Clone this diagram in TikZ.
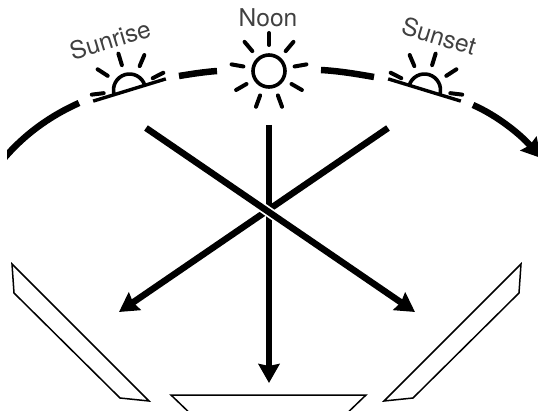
\documentclass[tikz,border=0pt]{standalone}
\usepackage{fontspec}
\setmainfont{TeX Gyre Heros}
\usetikzlibrary{arrows.meta}
\definecolor{labelgray}{rgb}{0.25, 0.25, 0.25}
\tikzset{
  beam/.style={line width=6.5pt,-{Stealth[length=19pt,width=21pt,inset=2pt]}},
  sky/.style={line width=6.5pt},
  ray/.style={line width=4pt,line cap=round},
  ground/.style={line width=3.4pt},
  panel/.style={line width=1.5pt,fill=white,line join=miter},
  timelabel/.style={font=\fontsize{24.5}{24.5}\selectfont,text=labelgray,inner sep=0pt}
}
\begin{document}
\begin{tikzpicture}[x=1pt,y=-1pt]
\useasboundingbox (0,0) rectangle (538,411);
\clip (0,0) rectangle (538,411);

% path of the sun
\begin{scope}
\clip (7,80) rectangle (100,170);
\draw[sky] (1,162) .. controls (23,135) and (50,116) .. (79,103);
\end{scope}
\draw[sky] (179,76) .. controls (191,74) and (204,72) .. (217,71);
\draw[sky] (321,70) .. controls (339,71) and (357,74) .. (374,77);
\draw[sky,-{Stealth[length=19pt,width=21pt,inset=2pt]}] (473,105) .. controls (498,116) and (521,135) .. (541,158);

% noon
\draw[line width=3.6pt] (269,71) circle (16pt);
\foreach \a in {90,130,...,410} {
  \draw[ray] ([shift={(\a:26pt)}]269,71) -- ([shift={(\a:38pt)}]269,71);
}
\node[timelabel] (noonlabel) at (268,18) {Noon};

% sunrise
\begin{scope}[shift={(129.5,90)},rotate=17]
\draw[ground] (-38pt,0pt) -- (38pt,0pt);
\draw[line width=3.6pt] (-16pt,0pt) arc (180:0:16pt);
\foreach \a in {10,50,...,170} {
  \draw[ray] (\a:26pt) -- (\a:38pt);
}
\end{scope}
\node[timelabel,rotate=17] (sunriselabel) at (110,40) {Sunrise};

% sunset
\begin{scope}[shift={(424.5,90)},rotate=-17]
\draw[ground] (-38pt,0pt) -- (38pt,0pt);
\draw[line width=3.6pt] (-16pt,0pt) arc (180:0:16pt);
\foreach \a in {10,50,...,170} {
  \draw[ray] (\a:26pt) -- (\a:38pt);
}
\end{scope}
\node[timelabel,rotate=-17] (sunsetlabel) at (439,36) {Sunset};

% light
\coordinate (fromleft) at (146,128);
\coordinate (fromtop) at (269,125);
\coordinate (fromright) at (388,128);
\coordinate (toleft) at (119,312);
\coordinate (tobottom) at (269,383);
\coordinate (toright) at (415,312);
\draw[beam] (fromtop) -- (tobottom);
\draw[beam] (fromright) -- (toleft);
\draw[white,line width=10pt] (fromleft) -- (toright);
\draw[beam] (fromleft) -- (toright);

% panels
\draw[panel] (12,264) -- (14,293) -- (120,398) -- (149,401) -- cycle;
\draw[panel] (521,264) -- (519,293) -- (413,398) -- (384,401) -- cycle;
\draw[panel] (171,395) -- (366,395) -- (340,420) -- (197,420) -- cycle;
\end{tikzpicture}
\end{document}
